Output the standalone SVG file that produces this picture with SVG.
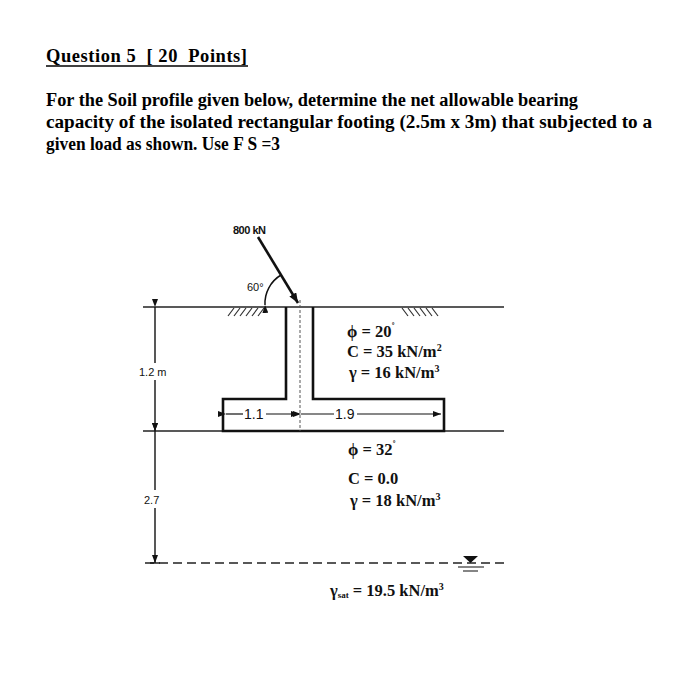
<svg xmlns="http://www.w3.org/2000/svg" width="700" height="690" viewBox="0 0 700 690">
<style>
.t{font-family:"Liberation Serif",serif;font-weight:bold;font-size:18.5px;fill:#000}
.s{font-family:"Liberation Sans",sans-serif;font-size:11px;fill:#111}
.d{font-family:"Liberation Sans",sans-serif;font-size:14px;fill:#111}
.v{font-family:"Liberation Serif",serif;font-weight:bold;font-size:16.5px;fill:#111}
.ln{stroke:#222;stroke-width:1.6;fill:none}
.th{stroke:#111;stroke-width:2.6;fill:none}
</style>
<defs>
<marker id="a" markerWidth="8" markerHeight="6" refX="8" refY="3" orient="auto" markerUnits="userSpaceOnUse"><path d="M0,0L8,3L0,6z" fill="#111"/></marker>
<marker id="b" markerWidth="10" markerHeight="8" refX="10" refY="4" orient="auto" markerUnits="userSpaceOnUse"><path d="M0,0L10,4L0,8z" fill="#111"/></marker>
</defs>
<rect width="700" height="690" fill="#fff"/>
<g id="title">
<text class="t" x="46" y="62" textLength="201" lengthAdjust="spacing" xml:space="preserve">Question 5  [ 20  Points]</text>
<line x1="46" y1="66" x2="248" y2="66" stroke="#000" stroke-width="1.3"/>
<text class="t" x="46" y="106" textLength="532" lengthAdjust="spacingAndGlyphs">For the Soil profile given below, determine the net allowable bearing</text>
<text class="t" x="46" y="128" textLength="606" lengthAdjust="spacingAndGlyphs">capacity of the isolated rectangular footing (2.5m x 3m) that subjected to a</text>
<text class="t" x="46" y="150" textLength="234" lengthAdjust="spacingAndGlyphs">given load as shown. Use F S =3</text>
</g>
<g id="ground">
<line class="ln" x1="143" y1="307" x2="504" y2="307"/>
<line class="ln" x1="143" y1="431" x2="504" y2="431"/>
<line x1="145" y1="563" x2="506" y2="563" stroke="#222" stroke-width="1.6" stroke-dasharray="9,5"/>
<path d="M228,316l6,-8M234,316l6,-8M240,316l6,-8M246,316l6,-8M252,316l6,-8M258,316l6,-8M402,308l6,8M408,308l6,8M414,308l6,8M420,308l6,8M426,308l6,8M432,308l6,8" stroke="#333" stroke-width="1.2"/>
</g>
<g id="footing">
<path class="th" d="M286,307V399H223V431H444V399H313V307"/>
<line x1="300" y1="300" x2="300" y2="431" stroke="#555" stroke-width="1" stroke-dasharray="3,2"/>
</g>
<g id="connectors">
<line x1="258" y1="237" x2="298" y2="303" stroke="#111" stroke-width="2.6" marker-end="url(#b)"/>
<path d="M265,305A33,33 0 0 1 281,275" stroke="#111" stroke-width="1.5" fill="none" marker-start="url(#a)"/>
<line x1="226" y1="414" x2="243" y2="414" stroke="#111" stroke-width="1.2" marker-start="url(#a)"/>
<line x1="266" y1="414" x2="299" y2="414" stroke="#111" stroke-width="1.2" marker-end="url(#a)"/>
<line x1="301" y1="414" x2="334" y2="414" stroke="#111" stroke-width="1.2" marker-start="url(#a)"/>
<line x1="357" y1="414" x2="441" y2="414" stroke="#111" stroke-width="1.2" marker-end="url(#a)"/>
<line x1="155" y1="307" x2="155" y2="363" stroke="#111" stroke-width="1.4" marker-start="url(#a)"/>
<line x1="155" y1="380" x2="155" y2="431" stroke="#111" stroke-width="1.4" marker-end="url(#a)"/>
<line x1="155" y1="431" x2="155" y2="490" stroke="#111" stroke-width="1.4" marker-start="url(#a)"/>
<line x1="155" y1="508" x2="155" y2="563" stroke="#111" stroke-width="1.4" marker-end="url(#a)"/>
<line x1="150" y1="563" x2="160" y2="563" stroke="#111" stroke-width="1.4"/>
</g>
<g id="water">
<path d="M463,556H478L470.5,563z" fill="#111"/>
<line x1="458" y1="567" x2="484" y2="567" stroke="#333" stroke-width="1.2"/>
<line x1="463" y1="571" x2="478" y2="571" stroke="#333" stroke-width="1.2"/>
</g>
<g id="labels">
<text class="s" x="233" y="234" font-weight="bold" letter-spacing="-0.5">800 kN</text>
<text class="s" x="247" y="291">60°</text>
<text class="s" x="139" y="376">1.2 m</text>
<text class="s" x="144" y="504">2.7</text>
<text class="d" x="244" y="419">1.1</text>
<text class="d" x="335" y="419">1.9</text>
<text class="v" x="347" y="337">ϕ = 20<tspan font-size="10" dy="-7">˚</tspan></text>
<text class="v" x="347" y="357">C = 35 kN/m<tspan font-size="10" dy="-6">2</tspan></text>
<text class="v" x="349" y="378">γ = 16 kN/m<tspan font-size="10" dy="-6">3</tspan></text>
<text class="v" x="348" y="455">ϕ = 32<tspan font-size="10" dy="-7">˚</tspan></text>
<text class="v" x="348" y="484">C = 0.0</text>
<text class="v" x="350" y="506">γ = 18 kN/m<tspan font-size="10" dy="-6">3</tspan></text>
<text class="v" x="330" y="596">γ<tspan font-size="9" dy="2">sat</tspan><tspan dy="-2"> = 19.5 kN/m</tspan><tspan font-size="10" dy="-6">3</tspan></text>
</g>
</svg>
